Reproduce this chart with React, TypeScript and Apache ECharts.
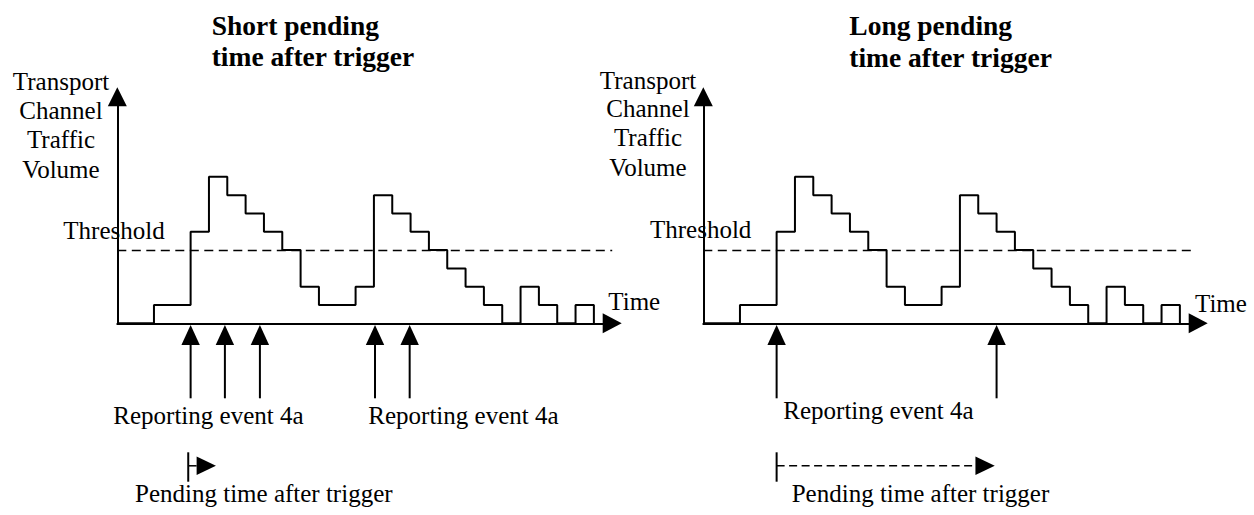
import React, { useEffect, useRef } from "react";
import * as echarts from "echarts";

// ---- data ----
const stepX = [0, 2, 4, 5, 6, 7, 8, 9, 10, 11, 13, 14, 15, 16, 17, 18, 19, 20, 21, 22, 23, 24, 25, 26];
const stepLevel = [0, 1, 5, 8, 7, 6, 5, 4, 2, 1, 2, 7, 6, 5, 4, 3, 2, 1, 0, 2, 1, 0, 1, 0];
const thresholdLevel = 4;
const shortEvents = [4, 5.87, 7.78, 14.06, 15.95];
const longEvents = [4, 16];
const shortPending = [3.87, 5.38];
const longPending = [4, 15.9];
const panelTitles = [
  ["Short pending", "time after trigger"],
  ["Long pending", "time after trigger"],
];
const yAxisTitle = ["Transport", "Channel", "Traffic", "Volume"];
const thresholdLabel = "Threshold";
const xAxisTitle = "Time";
const eventLabel = "Reporting event 4a";
const pendingLabel = "Pending time after trigger";

// ---- layout ----
const UNIT = 18.33;
const X_MAX = 27;
const Y_MAX = 12.38;
const GRID_TOP = 96.7;
const GRID_H = 226.6;
const panelLeft = [117.3, 703.3];
const thresholdEnd = [27, 26.7];
const FONT = "Liberation Serif, Times New Roman, serif";
const FS = 25;
const TFS = 27.5;
const BASE = 0.33;

function txt(text: string, x: number, baseline: number, opts: any = {}) {
  const fs = opts.fs || FS;
  return {
    type: "text",
    x,
    y: baseline - BASE * fs,
    silent: true,
    style: {
      text,
      fill: "#000",
      fontSize: fs,
      fontFamily: FONT,
      fontWeight: opts.bold ? "bold" : "normal",
      align: opts.align || "left",
      verticalAlign: "middle",
    },
  };
}

export default function App() {
  const ref = useRef<HTMLDivElement>(null);
  useEffect(() => {
    if (!ref.current) return;
    const chart = echarts.init(ref.current, undefined, { renderer: "svg" });
    const stepData = stepX.map((x, i) => [x, stepLevel[i]]);

    const grids: any[] = [];
    const xAxes: any[] = [];
    const yAxes: any[] = [];
    const series: any[] = [];
    const axisLine = (size: number[]) => ({
      show: true,
      onZero: false,
      lineStyle: { color: "#000", width: 2 },
      symbol: ["none", "triangle"],
      symbolSize: size,
    });

    [0, 1].forEach((p) => {
      grids.push({ left: panelLeft[p], top: GRID_TOP, width: UNIT * X_MAX, height: GRID_H });
      xAxes.push({
        type: "value", gridIndex: p, min: 0, max: X_MAX,
        axisLine: axisLine([20, 19]), axisTick: { show: false },
        axisLabel: { show: false }, splitLine: { show: false },
      });
      yAxes.push({
        type: "value", gridIndex: p, min: 0, max: Y_MAX,
        axisLine: axisLine([19, 19]), axisTick: { show: false },
        axisLabel: { show: false }, splitLine: { show: false },
      });
      series.push({
        type: "line", xAxisIndex: p, yAxisIndex: p, step: "end",
        data: stepData, showSymbol: false, clip: false,
        lineStyle: { color: "#000", width: 2 },
        markLine: {
          silent: true, symbol: "none", label: { show: false },
          lineStyle: { color: "#000", width: 1.3, type: [9, 5.5] },
          data: [[{ coord: [0, thresholdLevel] }, { coord: [thresholdEnd[p], thresholdLevel] }]],
        },
      });
      const events = p === 0 ? shortEvents : longEvents;
      series.push({
        type: "custom", xAxisIndex: p, yAxisIndex: p, clip: false,
        data: events.map((x) => [x, 0]),
        encode: { x: 0, y: 1 },
        renderItem: (params: any, api: any) => {
          const pt = api.coord([api.value(0), 0]);
          const x = pt[0], y = pt[1];
          return {
            type: "group",
            children: [
              { type: "line", shape: { x1: x, y1: y + 20, x2: x, y2: y + 75 }, style: { stroke: "#000", lineWidth: 2 } },
              { type: "polygon", shape: { points: [[x, y + 1.7], [x - 9.2, y + 21.7], [x + 9.2, y + 21.7]] }, style: { fill: "#000" } },
            ],
          };
        },
      });
      const pend = p === 0 ? shortPending : longPending;
      series.push({
        type: "custom", xAxisIndex: p, yAxisIndex: p, clip: false,
        data: [[pend[0], pend[1]]],
        encode: { x: [0, 1] },
        renderItem: (params: any, api: any) => {
          const a = api.coord([api.value(0), 0]);
          const b = api.coord([api.value(1), 0]);
          const y0 = a[1];
          const yc = y0 + 142.5;
          const base = b[0] - 19.3;
          return {
            type: "group",
            children: [
              { type: "line", shape: { x1: a[0], y1: y0 + 129, x2: a[0], y2: y0 + 158.4 }, style: { stroke: "#000", lineWidth: 2 } },
              { type: "line", shape: { x1: a[0], y1: yc, x2: base, y2: yc }, style: { stroke: "#000", lineWidth: 1.5, lineDash: p === 1 ? [8, 4.5] : null } },
              { type: "polygon", shape: { points: [[base, yc - 9.2], [b[0], yc], [base, yc + 9.2]] }, style: { fill: "#000" } },
            ],
          };
        },
      });
    });

    const graphics: any[] = [
      // left panel
      txt(panelTitles[0][0], 211.7, 35, { bold: true, fs: TFS }),
      txt(panelTitles[0][1], 211.7, 66, { bold: true, fs: TFS }),
      txt(yAxisTitle[0], 61, 89.3, { align: "center" }),
      txt(yAxisTitle[1], 61, 118.3, { align: "center" }),
      txt(yAxisTitle[2], 61, 147.3, { align: "center" }),
      txt(yAxisTitle[3], 61, 177.3, { align: "center" }),
      txt(thresholdLabel, 63.3, 238.3),
      txt(xAxisTitle, 608.3, 310),
      txt(eventLabel, 113.3, 424),
      txt(eventLabel, 368.3, 424),
      txt(pendingLabel, 135, 502),
      // right panel
      txt(panelTitles[1][0], 849.3, 35, { bold: true, fs: TFS }),
      txt(panelTitles[1][1], 849.3, 66.5, { bold: true, fs: TFS }),
      txt(yAxisTitle[0], 648, 88.5, { align: "center" }),
      txt(yAxisTitle[1], 648, 117, { align: "center" }),
      txt(yAxisTitle[2], 648, 146, { align: "center" }),
      txt(yAxisTitle[3], 648, 175.5, { align: "center" }),
      txt(thresholdLabel, 650, 238),
      txt(xAxisTitle, 1195, 311.5),
      txt(eventLabel, 783.3, 419),
      txt(pendingLabel, 791.7, 502),
    ];

    chart.setOption({
      animation: false,
      backgroundColor: "#fff",
      grid: grids,
      xAxis: xAxes,
      yAxis: yAxes,
      series,
      graphic: graphics,
    });
    return () => chart.dispose();
  }, []);
  return <div ref={ref} style={{ position: "fixed", left: 0, top: 0, width: 1254, height: 515 }} />;
}
